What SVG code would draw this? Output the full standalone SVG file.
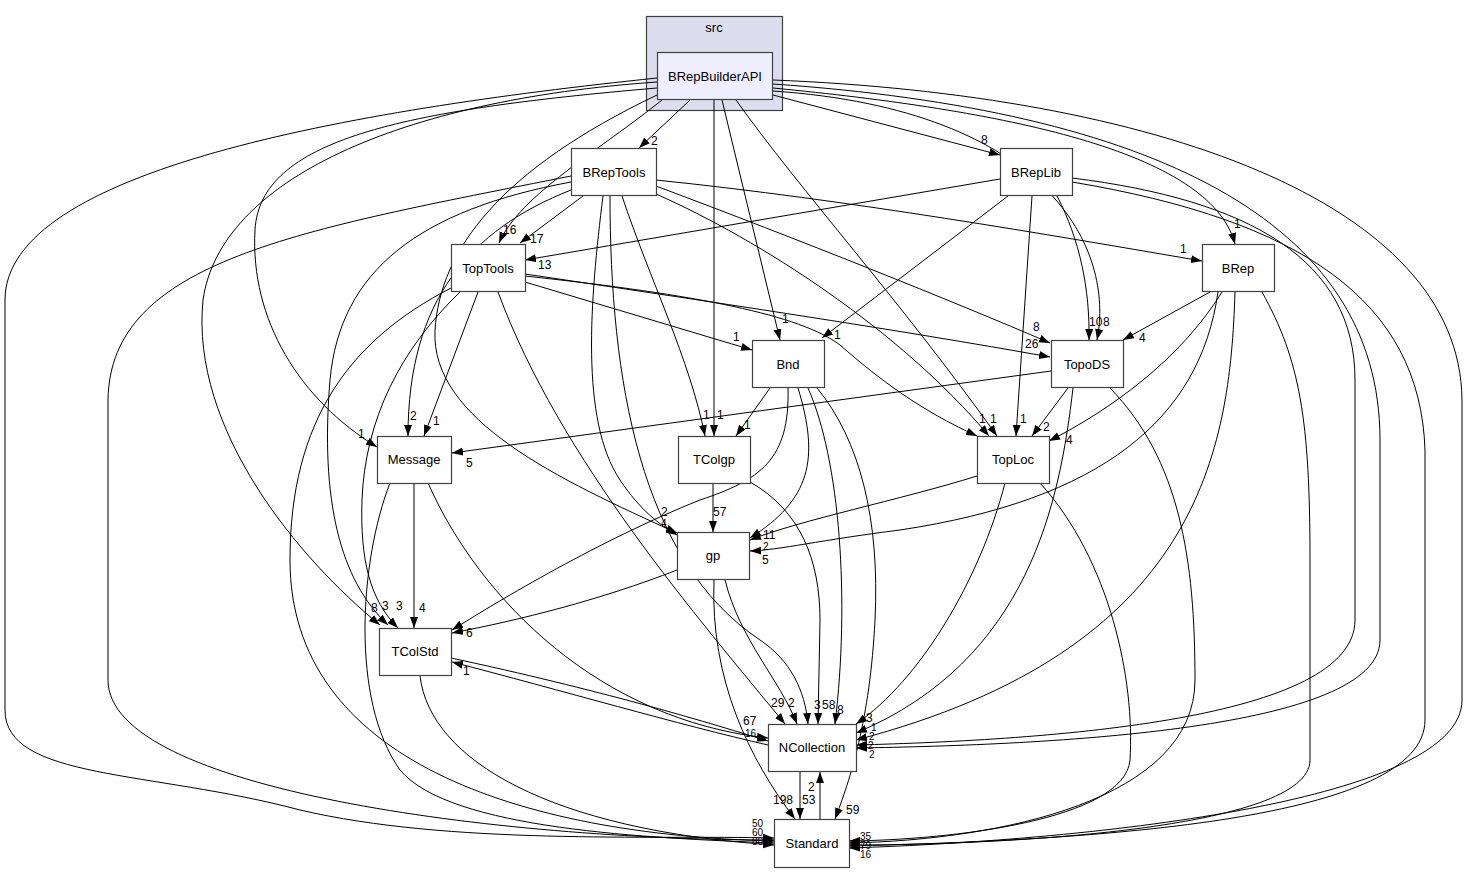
<svg xmlns="http://www.w3.org/2000/svg" width="1469" height="873" viewBox="0 0 1469 873">
<defs>
<marker id="ah" markerUnits="userSpaceOnUse" markerWidth="12" markerHeight="9" refX="11" refY="4" orient="auto">
<path d="M0,0 L11,4 L0,8 z" fill="#000"/>
</marker>
<style>
.n rect{fill:#fff;stroke:#404040;stroke-width:1.2}
.n text,.lbl text,.cl text{font-family:"Liberation Sans",Arial,sans-serif;fill:#000}
.n text,.cl text{font-size:13px}
.lbl text{font-size:12px}
.lbl text.s{font-size:10px}
.n text{text-anchor:middle}
.e path{fill:none;stroke:#000;stroke-width:1;marker-end:url(#ah)}
</style>
</defs>
<rect width="1469" height="873" fill="#fff"/>
<g id="cluster_src" class="cl">
<rect x="646.5" y="16.5" width="136" height="94" fill="#ddddee" stroke="#404040" stroke-width="1.2"/>
<text x="714" y="32" text-anchor="middle">src</text>
</g>
<g id="connectors" class="e">
<path d="M690,100 L639,148"/>
<path d="M773,95 L1000,155"/>
<path d="M662,100 C600,150 520,195 499,243"/>
<path d="M583,196 L520,243"/>
<path d="M1000,179 L525,260"/>
<path d="M773,88 C1000,110 1210,150 1235,244"/>
<path d="M656,180 C850,200 1050,235 1202,261"/>
<path d="M722,100 L780,340"/>
<path d="M1008,196 L822,338"/>
<path d="M525,282 L752,350"/>
<path d="M714,100 L714,436"/>
<path d="M622,196 C650,280 690,360 705,436"/>
<path d="M770,388 L736,436"/>
<path d="M1057,196 C1080,240 1090,290 1089,340"/>
<path d="M773,91 C1050,110 1115,250 1097,340"/>
<path d="M656,186 C800,240 950,300 1050,343"/>
<path d="M525,274 C700,300 900,330 1050,357"/>
<path d="M1210,292 L1123,340"/>
<path d="M1051,371 L452,453"/>
<path d="M1068,388 L1032,436"/>
<path d="M1222,292 C1180,360 1110,410 1049,441"/>
<path d="M1032,196 L1016,436"/>
<path d="M736,100 C800,190 900,300 997,436"/>
<path d="M656,194 C760,240 900,330 989,436"/>
<path d="M525,276 C700,295 800,315 840,345 C880,380 920,410 977,436"/>
<path d="M478,292 L424,436"/>
<path d="M571,190 C470,230 408,300 408,436"/>
<path d="M657,88 C400,110 260,140 255,230 C250,320 300,400 377,447"/>
<path d="M657,82 C400,100 220,180 203,300 C190,430 300,560 380,625"/>
<path d="M657,78 C350,110 5,170 5,300 L5,710 C5,780 150,770 300,810 C450,845 650,835 774,838"/>
<path d="M571,176 C300,230 110,260 108,400 L108,680 C108,790 500,840 774,840"/>
<path d="M571,182 C420,210 340,270 330,380 C320,500 340,580 388,625"/>
<path d="M451,288 C350,340 290,420 290,560 C290,760 520,835 774,841"/>
<path d="M460,292 C400,350 365,420 362,500 C360,560 370,600 398,628"/>
<path d="M414,483 L414,628"/>
<path d="M428,483 C480,600 600,720 768,738"/>
<path d="M390,483 C360,560 350,700 400,770 C450,830 650,838 774,843"/>
<path d="M420,676 C430,760 550,830 774,845"/>
<path d="M451,658 C600,690 700,720 768,741"/>
<path d="M768,745 C680,725 560,690 452,662"/>
<path d="M677,570 C600,600 520,620 452,633"/>
<path d="M788,388 C790,460 760,480 700,500 C600,540 500,600 452,630"/>
<path d="M725,580 C740,640 780,680 797,724"/>
<path d="M714,580 C710,680 750,760 795,819"/>
<path d="M713,483 L713,532"/>
<path d="M750,482 C800,510 820,560 820,620 L818,724"/>
<path d="M657,95 C500,170 440,250 435,330 C430,420 560,480 677,533"/>
<path d="M603,196 C590,300 580,420 620,480 C640,510 660,525 677,535"/>
<path d="M610,196 C610,380 640,560 760,640 C790,660 805,690 808,724"/>
<path d="M798,388 C820,460 810,500 750,538"/>
<path d="M977,476 C900,500 800,520 750,540"/>
<path d="M1218,292 C1200,420 1100,500 900,530 C820,540 780,550 750,551"/>
<path d="M808,388 C840,460 850,600 835,724"/>
<path d="M817,388 C860,440 880,520 875,620 C870,720 850,780 835,819"/>
<path d="M498,292 C560,460 700,620 785,724"/>
<path d="M1005,483 C980,580 920,680 856,724"/>
<path d="M1073,388 C1060,500 1030,660 856,733"/>
<path d="M1235,292 C1230,450 1200,650 856,740"/>
<path d="M1072,178 C1250,200 1355,260 1355,380 L1355,620 C1355,720 1050,740 856,745"/>
<path d="M773,84 C1150,110 1380,220 1380,440 L1380,640 C1380,730 1050,745 856,748"/>
<path d="M1110,388 C1180,460 1195,560 1195,680 C1195,800 1000,840 849,843"/>
<path d="M1040,483 C1110,560 1135,680 1130,760 C1125,820 950,840 849,841"/>
<path d="M1262,292 C1300,360 1310,420 1310,560 L1310,760 C1310,830 1000,845 849,845"/>
<path d="M1072,182 C1300,220 1420,300 1425,450 L1425,720 C1425,820 1100,840 849,846"/>
<path d="M773,80 C1150,95 1460,200 1462,400 L1462,700 C1462,800 1100,840 849,848"/>
<path d="M800,772 L800,819"/>
<path d="M820,819 L820,772"/>
</g>
<g id="edge_labels" class="lbl">
<text x="651" y="145">2</text>
<text x="981" y="144">8</text>
<text x="503" y="234">16</text>
<text x="530" y="243">17</text>
<text x="538" y="269">13</text>
<text x="1234" y="228">1</text>
<text x="1180" y="253">1</text>
<text x="782" y="323">1</text>
<text x="834" y="339">1</text>
<text x="733" y="341">1</text>
<text x="703" y="419">1</text>
<text x="717" y="419">1</text>
<text x="744" y="429">1</text>
<text x="1089" y="326">10</text>
<text x="1103" y="326">8</text>
<text x="1033" y="331">8</text>
<text x="1025" y="348">26</text>
<text x="1139" y="342">4</text>
<text x="466" y="467">5</text>
<text x="1043" y="431">2</text>
<text x="1066" y="444">4</text>
<text x="1020" y="423">1</text>
<text x="979" y="423">1</text>
<text x="990" y="423">1</text>
<text x="433" y="425">1</text>
<text x="410" y="420">2</text>
<text x="358" y="438">1</text>
<text x="419" y="612">4</text>
<text x="371" y="612">8</text>
<text x="382" y="610">3</text>
<text x="396" y="610">3</text>
<text x="466" y="637">6</text>
<text x="463" y="675">1</text>
<text x="661" y="516">2</text>
<text x="661" y="527" class="s">4</text>
<text x="713" y="516">57</text>
<text x="763" y="539">11</text>
<text x="763" y="550" class="s">2</text>
<text x="762" y="564">5</text>
<text x="771" y="707">29</text>
<text x="788" y="707">2</text>
<text x="814" y="709">3</text>
<text x="822" y="709">58</text>
<text x="837" y="714">8</text>
<text x="743" y="725">67</text>
<text x="745" y="737" class="s">16</text>
<text x="866" y="722">3</text>
<text x="871" y="731" class="s">1</text>
<text x="869" y="740" class="s">2</text>
<text x="868" y="749" class="s">2</text>
<text x="869" y="758" class="s">2</text>
<text x="808" y="791">2</text>
<text x="802" y="804">53</text>
<text x="773" y="804">198</text>
<text x="846" y="814">59</text>
<text x="752" y="827" class="s">50</text>
<text x="752" y="836" class="s">60</text>
<text x="752" y="845" class="s">80</text>
<text x="860" y="840" class="s">35</text>
<text x="860" y="849" class="s">79</text>
<text x="860" y="858" class="s">16</text>
</g>
<g id="BRepBuilderAPI" class="n"><rect x="657.5" y="52.5" width="115" height="47" style="fill:#eeeeff"/><text x="715" y="81">BRepBuilderAPI</text></g>
<g id="BRepTools" class="n"><rect x="571.5" y="148.5" width="85" height="47"/><text x="614" y="177">BRepTools</text></g>
<g id="BRepLib" class="n"><rect x="1000.5" y="148.5" width="72" height="47"/><text x="1036" y="177">BRepLib</text></g>
<g id="TopTools" class="n"><rect x="451.5" y="244.5" width="74" height="47"/><text x="488" y="273">TopTools</text></g>
<g id="BRep" class="n"><rect x="1202.5" y="244.5" width="72" height="47"/><text x="1238" y="273">BRep</text></g>
<g id="Bnd" class="n"><rect x="752.5" y="340.5" width="72" height="47"/><text x="788" y="369">Bnd</text></g>
<g id="TopoDS" class="n"><rect x="1051.5" y="340.5" width="72" height="47"/><text x="1087" y="369">TopoDS</text></g>
<g id="Message" class="n"><rect x="377.5" y="436.5" width="74" height="47"/><text x="414" y="464">Message</text></g>
<g id="TColgp" class="n"><rect x="678.5" y="436.5" width="72" height="47"/><text x="714" y="464">TColgp</text></g>
<g id="TopLoc" class="n"><rect x="977.5" y="436.5" width="72" height="47"/><text x="1013" y="464">TopLoc</text></g>
<g id="gp" class="n"><rect x="677.5" y="532.5" width="72" height="47"/><text x="713" y="560">gp</text></g>
<g id="TColStd" class="n"><rect x="379.5" y="628.5" width="72" height="47"/><text x="415" y="656">TColStd</text></g>
<g id="NCollection" class="n"><rect x="768.5" y="724.5" width="88" height="47"/><text x="812" y="752">NCollection</text></g>
<g id="Standard" class="n"><rect x="774.5" y="819.5" width="75" height="48"/><text x="812" y="848">Standard</text></g>
</svg>
